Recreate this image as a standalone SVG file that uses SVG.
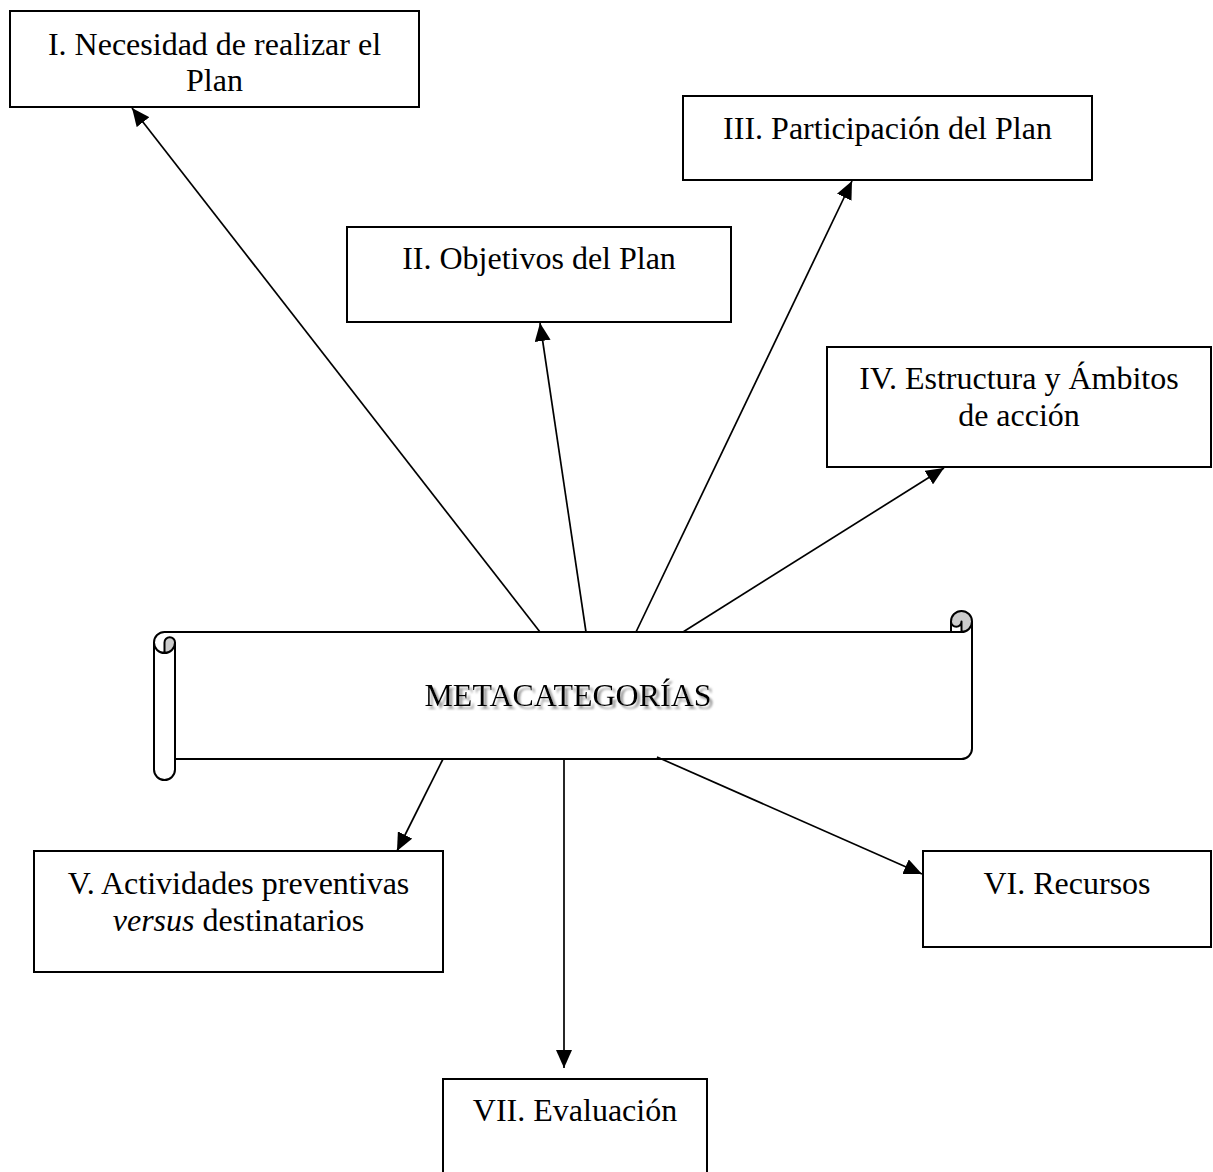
<svg xmlns="http://www.w3.org/2000/svg" width="1213" height="1172" viewBox="0 0 1213 1172">
  <style>
    .box { fill: #ffffff; stroke: #000000; stroke-width: 2; }
    .lbl { font-family: "Liberation Serif", "Times New Roman", serif; font-size: 32px; fill: #000000; text-anchor: middle; }
    .edge { fill: none; stroke: #000000; stroke-width: 1.7; marker-end: url(#arrow); }
    .scroll-line { fill: none; stroke: #000000; stroke-width: 2; stroke-linejoin: round; }
    .curl { fill: #cccccc; stroke: none; }
  </style>
  <defs>
    <marker id="arrow" markerUnits="userSpaceOnUse" markerWidth="19" markerHeight="16" refX="18" refY="8" orient="auto">
      <path d="M0,0 L18,8 L0,16 Z" fill="#000000"/>
    </marker>
    <!-- soft grey drop shadow for the title -->
    <filter id="title-shadow" x="-5%" y="-20%" width="112%" height="150%">
      <feGaussianBlur in="SourceAlpha" stdDeviation="0.8" result="blur"/>
      <feOffset in="blur" dx="2.5" dy="2.5" result="off"/>
      <feFlood flood-color="#9c9c9c"/>
      <feComposite in2="off" operator="in" result="shade"/>
      <feMerge>
        <feMergeNode in="shade"/>
        <feMergeNode in="SourceGraphic"/>
      </feMerge>
    </filter>
  </defs>
  <rect width="1213" height="1172" fill="#ffffff"/>

  <!-- central scroll -->
  <g id="metacategorias">
    <path d="M154,642.5 A10.5,10.5 0 0 1 164.5,632 L951,632 L951,621.5 A10.5,10.5 0 0 1 972,621.5 L972,748.5 A10.5,10.5 0 0 1 961.5,759 L175,759 L175,769.5 A10.5,10.5 0 0 1 154,769.5 Z" fill="#ffffff"/>
    <circle class="curl" cx="961.5" cy="621.5" r="10.5"/>
    <path d="M951,621.5 A5.25,5.25 0 0 0 961.5,621.5 L961.5,632 L951,632 Z" fill="#ffffff"/>
    <path class="curl" d="M164.5,653 L164.5,642.5 A5.25,5.25 0 0 1 175,642.5 A10.5,10.5 0 0 1 164.5,653 Z"/>
    <path class="scroll-line" d="M154,642.5 A10.5,10.5 0 0 1 164.5,632 L951,632 L951,621.5 A10.5,10.5 0 0 1 972,621.5 L972,748.5 A10.5,10.5 0 0 1 961.5,759 L175,759 L175,769.5 A10.5,10.5 0 0 1 154,769.5 Z"/>
    <path class="scroll-line" d="M951,632 L961.5,632 A10.5,10.5 0 0 0 972,621.5 M961.5,632 L961.5,621.5 A5.25,5.25 0 0 1 951,621.5 M164.5,653 L164.5,642.5 A5.25,5.25 0 0 1 175,642.5 A10.5,10.5 0 0 1 154,642.5 M175,642.5 L175,759"/>
    <text class="lbl" x="568" y="706" filter="url(#title-shadow)">METACATEGORÍAS</text>
  </g>

  <!-- connectors -->
  <g id="connectors">
    <line class="edge" x1="540" y1="632" x2="132" y2="108"/>
    <line class="edge" x1="586" y1="632" x2="540" y2="323"/>
    <line class="edge" x1="636" y1="632" x2="852" y2="181"/>
    <line class="edge" x1="683" y1="632" x2="944" y2="468"/>
    <line class="edge" x1="443" y1="759" x2="397" y2="851"/>
    <line class="edge" x1="657" y1="757" x2="922" y2="874"/>
    <line class="edge" x1="564" y1="759" x2="564" y2="1068"/>
  </g>

  <g id="node-i">
    <rect class="box" x="10" y="11" width="409" height="96"/>
    <text class="lbl" x="214.5" y="55">I. Necesidad de realizar el</text>
    <text class="lbl" x="214.5" y="91">Plan</text>
  </g>

  <g id="node-ii">
    <rect class="box" x="347" y="227" width="384" height="95"/>
    <text class="lbl" x="539" y="269">II. Objetivos del Plan</text>
  </g>

  <g id="node-iii">
    <rect class="box" x="683" y="96" width="409" height="84"/>
    <text class="lbl" x="887.5" y="139">III. Participación del Plan</text>
  </g>

  <g id="node-iv">
    <rect class="box" x="827" y="347" width="384" height="120"/>
    <text class="lbl" x="1019" y="389">IV. Estructura y Ámbitos</text>
    <text class="lbl" x="1019" y="426">de acción</text>
  </g>

  <g id="node-v">
    <rect class="box" x="34" y="851" width="409" height="121"/>
    <text class="lbl" x="238.5" y="894">V. Actividades preventivas</text>
    <text class="lbl" x="238.5" y="931"><tspan font-style="italic">versus</tspan> destinatarios</text>
  </g>

  <g id="node-vi">
    <rect class="box" x="923" y="851" width="288" height="96"/>
    <text class="lbl" x="1067" y="894">VI. Recursos</text>
  </g>

  <g id="node-vii">
    <rect class="box" x="443" y="1079" width="264" height="120"/>
    <text class="lbl" x="575" y="1121">VII. Evaluación</text>
  </g>
</svg>
